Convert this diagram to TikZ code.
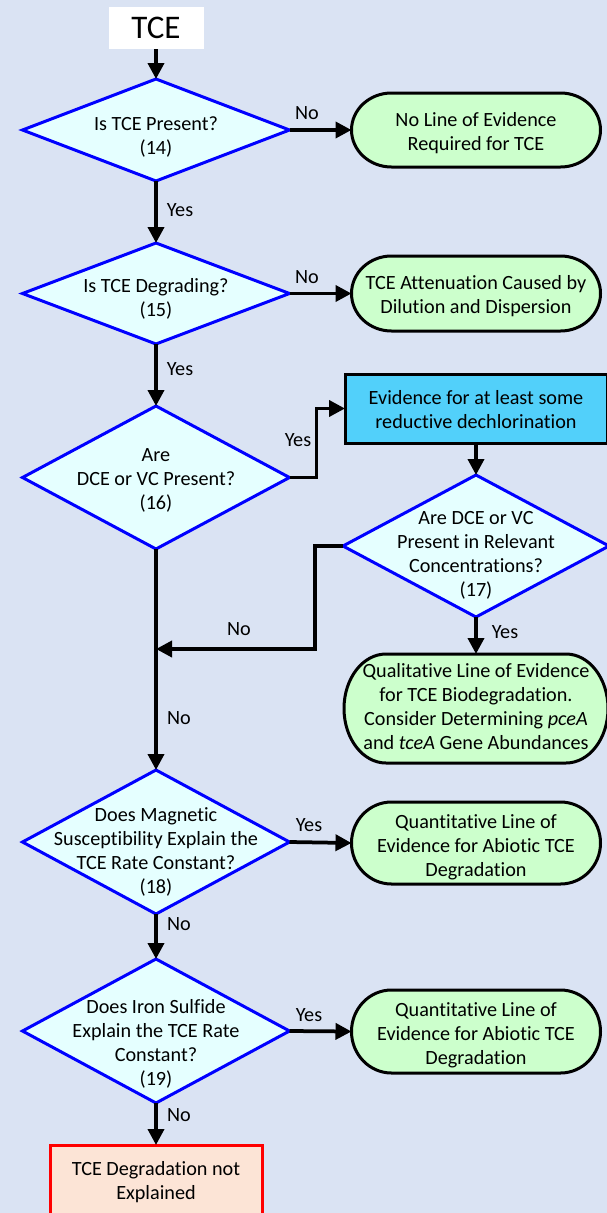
\documentclass[tikz,border=0pt]{standalone}
\usepackage{fontspec}
\setmainfont[Ligatures=NoCommon]{Carlito}
\usetikzlibrary{arrows.meta}

\definecolor{pagebg}{RGB}{218,227,243}
\definecolor{qfill}{RGB}{229,255,255}
\definecolor{qline}{RGB}{0,0,255}
\definecolor{endfill}{RGB}{204,255,204}
\definecolor{notefill}{RGB}{82,208,250}
\definecolor{failfill}{RGB}{252,228,214}
\definecolor{failline}{RGB}{255,0,0}

% diamond outline through the four side anchors of a frame node
\newcommand\question[1]{%
  \filldraw[qbox] (#1.north) -- (#1.east) -- (#1.south) -- (#1.west) -- cycle;}

% terminator outline (elliptic ends) around a frame node: name, end x radius, half height
\newcommand\termoutline[3]{%
  \filldraw[endbox] ([xshift=#2pt]#1.north west) -- ([xshift=-#2pt]#1.north east)
    arc[start angle=-90,end angle=90,x radius=#2,y radius=#3]
    -- ([xshift=#2pt]#1.south west)
    arc[start angle=90,end angle=270,x radius=#2,y radius=#3] -- cycle;}

\begin{document}
\begin{tikzpicture}[x=1pt,y=-1pt,
  frame/.style={inner sep=0pt,outer sep=0pt},
  txt/.style={font=\fontsize{20.2}{24}\selectfont,align=center,inner sep=0pt,yshift=-2.5pt},
  lbl/.style={font=\fontsize{20.2}{24}\selectfont,inner sep=0pt},
  qbox/.style={draw=qline,fill=qfill,line width=3pt,line join=miter},
  endbox/.style={draw=black,fill=endfill,line width=3pt},
  flow/.style={line width=3.75pt,-{Triangle[width=16pt,length=16pt]}}]

\fill[pagebg] (0,0) rectangle (607,1213);
\useasboundingbox (0,0) rectangle (607,1213);

% ---- start
\node[frame,fill=white,minimum width=95pt,minimum height=42pt,
      font=\fontsize{33}{36}\selectfont] (tce) at (156,28) {TCE};

% ---- main column of decisions
\node[frame,minimum width=267pt,minimum height=102pt] (d1) at (156,130) {};
\question{d1}
\node[txt] (d1t) at (156,135) {\strut Is TCE Present?\\(14)\strut};

\node[frame,minimum width=267pt,minimum height=101pt] (d2) at (156,293.5) {};
\question{d2}
\node[txt] (d2t) at (156,297) {\strut Is TCE Degrading?\\(15)\strut};

\node[frame,minimum width=267pt,minimum height=143pt] (d3) at (156,477.5) {};
\question{d3}
\node[txt] (d3t) at (156,478) {\strut Are\\DCE or VC Present?\\(16)\strut};

\coordinate (merge) at (156,649);

\node[frame,minimum width=267pt,minimum height=144pt] (d6) at (156,842) {};
\question{d6}
\node[txt] (d6t) at (156,850) {\strut Does Magnetic\\Susceptibility Explain the\\TCE Rate Constant?\\(18)\strut};

\node[frame,minimum width=267pt,minimum height=144pt] (d7) at (156,1031) {};
\question{d7}
\node[txt] (d7t) at (156,1042) {\strut Does Iron Sulfide\\Explain the TCE Rate\\Constant?\\(19)\strut};

\node[frame,draw=failline,fill=failfill,line width=3pt,minimum width=212pt,
      minimum height=70pt] (fail) at (156,1180) {};
\node[txt] (failt) at (156,1180) {\strut TCE Degradation not\\Explained\strut};

% ---- right column
\node[frame,minimum width=249pt,minimum height=74pt] (t1) at (476,130) {};
\termoutline{t1}{40}{37}
\node[txt] (t1t) at (476,131) {\strut No Line of Evidence\\Required for TCE\strut};

\node[frame,minimum width=249pt,minimum height=75pt] (t2) at (476,293.5) {};
\termoutline{t2}{40}{37.5}
\node[txt] (t2t) at (476,294.5) {\strut TCE Attenuation Caused by\\Dilution and Dispersion\strut};

\node[frame,draw=black,fill=notefill,line width=3pt,minimum width=262pt,
      minimum height=69pt] (note) at (476,408.5) {};
\node[txt] (notet) at (476,409) {\strut Evidence for at least some\\reductive dechlorination\strut};

\node[frame,minimum width=266pt,minimum height=142pt] (d5) at (476,546) {};
\question{d5}
\node[txt] (d5t) at (476,553) {\strut Are DCE or VC\\Present in Relevant\\Concentrations?\\(17)\strut};

\node[frame,minimum width=264pt,minimum height=109pt] (t3) at (476,708.5) {};
\termoutline{t3}{42}{54.5}
\node[txt] (t3t) at (476,706) {\strut Qualitative Line of Evidence\\for TCE Biodegradation.\\Consider Determining \textit{pceA}\\and \textit{tceA} Gene Abundances\strut};

\node[frame,minimum width=249pt,minimum height=82pt] (t4) at (476,843) {};
\termoutline{t4}{40}{41}
\node[txt] (t4t) at (476,845) {\strut Quantitative Line of\\Evidence for Abiotic TCE\\Degradation\strut};

\node[frame,minimum width=249pt,minimum height=83pt] (t5) at (476,1031.5) {};
\termoutline{t5}{40}{41.5}
\node[txt] (t5t) at (476,1033) {\strut Quantitative Line of\\Evidence for Abiotic TCE\\Degradation\strut};

% ---- connectors
\draw[flow] (tce.south) -- (d1.north);
\draw[flow] (d1.east) -- (t1.west);
\draw[flow] (d1.south) -- (d2.north);
\draw[flow] (d2.east) -- (t2.west);
\draw[flow] (d2.south) -- (d3.north);
\draw[flow] (d3.east) -- ++(27,0) |- (note.west);
\draw[flow] (note.south) -- (d5.north);
\draw[flow] (d5.west) -- ++(-28,0) |- (merge);
\draw[flow] (d5.south) -- (t3.north);
\draw[flow] (d3.south) -- (d6.north);
\draw[flow] (d6.east) -- (t4.west);
\draw[flow] (d6.south) -- (d7.north);
\draw[flow] (d7.east) -- (t5.west);
\draw[flow] (d7.south) -- (fail.north);

% ---- branch labels
\node[lbl] (l1n) at (307,113) {No};
\node[lbl] (l1y) at (180,210) {Yes};
\node[lbl] (l2n) at (307,277) {No};
\node[lbl] (l2y) at (180,369) {Yes};
\node[lbl] (l3y) at (298,440) {Yes};
\node[lbl] (l5n) at (239,629) {No};
\node[lbl] (l5y) at (505,632) {Yes};
\node[lbl] (l3n) at (179,718) {No};
\node[lbl] (l6y) at (309,825) {Yes};
\node[lbl] (l6n) at (179,924) {No};
\node[lbl] (l7y) at (309,1015) {Yes};
\node[lbl] (l7n) at (179,1115) {No};

\end{tikzpicture}
\end{document}
